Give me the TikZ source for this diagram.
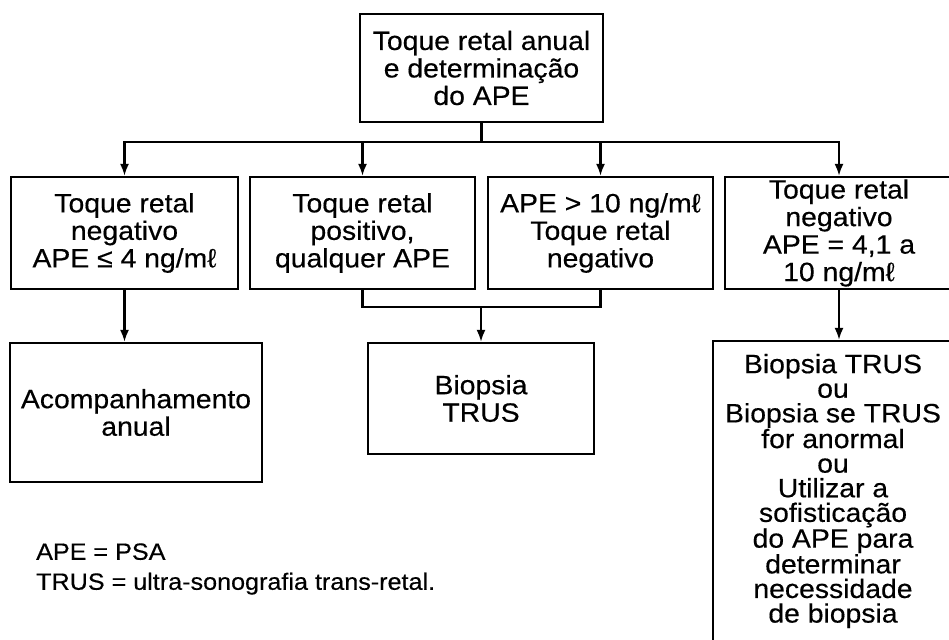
\documentclass[tikz,border=0pt]{standalone}
\usepackage{fontspec}
\setmainfont[FakeStretch=1.07, FakeBold=0.4]{Liberation Sans}
\usetikzlibrary{calc}
\usetikzlibrary{arrows.meta}
\newcommand{\boxfont}{\fontsize{26.5}{27.5}\selectfont}
\newcommand{\altfont}{\fontsize{26.5}{24.6}\selectfont}
\newcommand{\notefont}{\fontsize{23.5}{30}\selectfont}
\tikzset{
  box/.style = {draw=#1, line width=2.2pt, align=center, inner sep=0pt, font=\boxfont},
  wire/.style = {color=#1, line width=2.2pt},
  vec/.style = {color=#1, line width=2.2pt, -{Latex[length=12pt,width=9pt]}},
  note/.style = {color=#1, align=left, inner sep=0pt, font=\notefont}
}

\begin{document}
\begin{tikzpicture}[x=1pt, y=-1pt]

    \useasboundingbox (0,0) rectangle (949,639);
    \clip (0,0) rectangle (949,639);

    % Boxes
    \node[box={black}, minimum width=243pt, minimum height=108pt] (top) at (481.5,68)
      {Toque retal anual\\e determinação\\do APE};

    \node[box={black}, minimum width=227pt, minimum height=112pt] (neg) at (124.5,233)
      {Toque retal\\negativo\\APE ≤ 4 ng/mℓ};
    \node[box={black}, minimum width=225pt, minimum height=112pt] (pos) at (362.5,233)
      {Toque retal\\positivo,\\qualquer APE};
    \node[box={black}, minimum width=225pt, minimum height=112pt] (gt) at (600.5,233)
      {APE > 10 ng/mℓ\\Toque retal\\negativo};
    \node[box={black}, minimum width=228pt, minimum height=112pt] (mid) at (839,233)
      {Toque retal\\negativo\\APE = 4,1 a\\10 ng/mℓ};

    \node[box={black}, minimum width=252pt, minimum height=139pt] (follow) at (136,412.5)
      {Acompanhamento\\anual};
    \node[box={black}, minimum width=226pt, minimum height=111pt] (biop) at (481,398.5)
      {Biopsia\\TRUS};
    \node[box={black}, font=\altfont, minimum width=240pt, minimum height=300pt] (alt) at (833,491)
      {Biopsia TRUS\\ou\\Biopsia se TRUS\\for anormal\\ou\\Utilizar a\\sofisticação\\do APE para\\determinar\\necessidade\\de biopsia};

    % Coordinates
    \coordinate (split) at (top.south |- 0,142);
    \coordinate (merge) at (biop.north |- 0,307);

    % Connectors
    \draw[wire={black}] (top.south) -- (split);
    \draw[vec={black}] (split) -| (neg.north);
    \draw[vec={black}] (split) -| (pos.north);
    \draw[vec={black}] (split) -| (gt.north);
    \draw[vec={black}] (split) -| (mid.north);

    \draw[vec={black}] (neg.south) -- (neg.south |- follow.north);
    \draw[wire={black}] (pos.south) |- (merge) -| (gt.south);
    \draw[vec={black}] (merge) -- (biop.north);
    \draw[vec={black}] (mid.south) -- (mid.south |- alt.north);

    % Legend
    \node[note={black}, anchor=west] (legend) at (36,569)
      {APE = PSA\\TRUS = ultra-sonografia trans-retal.};

\end{tikzpicture}
\end{document}
